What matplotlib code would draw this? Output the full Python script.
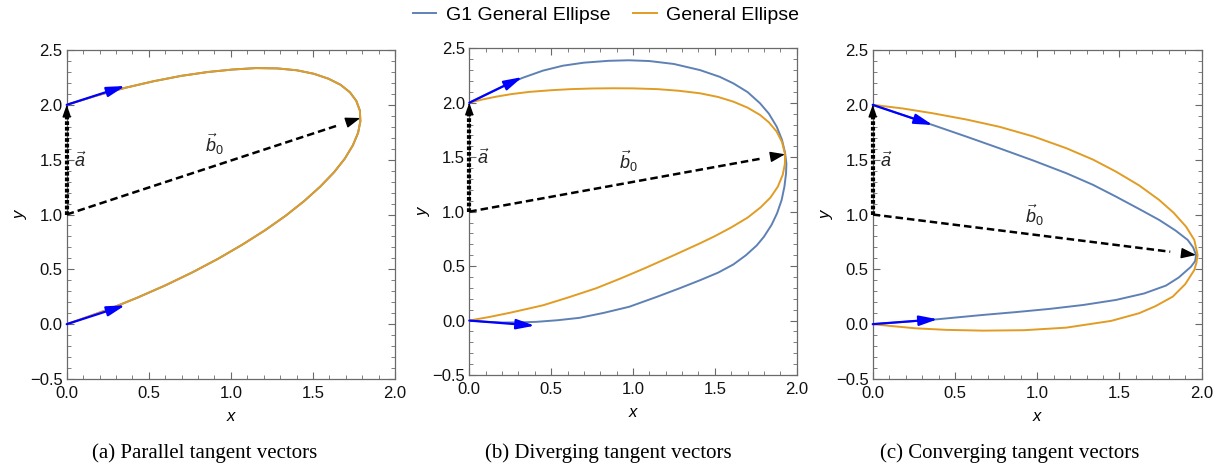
import matplotlib
matplotlib.use("Agg")
import matplotlib.pyplot as plt
from matplotlib.lines import Line2D
from matplotlib.ticker import MultipleLocator, FuncFormatter

plt.rcParams['font.family'] = ['Liberation Sans', 'DejaVu Sans']
plt.rcParams['mathtext.fontset'] = 'custom'
plt.rcParams['mathtext.rm'] = 'Liberation Sans'
plt.rcParams['mathtext.it'] = 'Liberation Sans:italic'

# ---------------- data ----------------
series_names = ["G1 General Ellipse", "General Ellipse"]
captions = ["(a) Parallel tangent vectors",
            "(b) Diverging tangent vectors",
            "(c) Converging tangent vectors"]

# Panel (a): both curves coincide
a_g1_x = [0.000, 0.179, 0.356, 0.529, 0.697, 0.858, 1.011, 1.153, 1.284, 1.402, 1.506,
          1.595, 1.668, 1.725, 1.764, 1.786, 1.789, 1.775, 1.743, 1.694, 1.628, 1.545,
          1.447, 1.335, 1.209, 1.071, 0.923, 0.765, 0.600, 0.428, 0.253, 0.074, 0.000]
a_g1_y = [2.000, 2.083, 2.155, 2.215, 2.264, 2.299, 2.322, 2.335, 2.332, 2.315, 2.283,
          2.238, 2.183, 2.115, 2.037, 1.948, 1.850, 1.744, 1.630, 1.509, 1.384, 1.255,
          1.123, 0.990, 0.857, 0.726, 0.597, 0.472, 0.353, 0.240, 0.134, 0.038, 0.000]
a_ge_x = list(a_g1_x)
a_ge_y = list(a_g1_y)

# Panel (b)
b_g1_x = [0.000, 0.100, 0.200, 0.324, 0.450, 0.571, 0.700, 0.850, 0.974, 1.100, 1.250,
          1.409, 1.530, 1.613, 1.700, 1.776, 1.830, 1.878, 1.910, 1.929, 1.937, 1.935,
          1.925, 1.908, 1.880, 1.847, 1.800, 1.756, 1.690, 1.613, 1.520, 1.409, 1.284,
          1.150, 0.978, 0.820, 0.673, 0.540, 0.408, 0.300, 0.200, 0.100, 0.000]
b_g1_y = [2.000, 2.075, 2.148, 2.228, 2.295, 2.340, 2.368, 2.385, 2.390, 2.383, 2.356,
          2.300, 2.238, 2.178, 2.098, 1.995, 1.900, 1.780, 1.660, 1.540, 1.440, 1.352,
          1.230, 1.107, 0.985, 0.880, 0.770, 0.690, 0.600, 0.515, 0.440, 0.370, 0.296,
          0.220, 0.127, 0.070, 0.025, 0.003, -0.012, -0.017, -0.018, -0.011, 0.000]
b_ge_x = [0.000, 0.080, 0.165, 0.260, 0.368, 0.500, 0.620, 0.750, 0.877, 1.000, 1.150,
          1.280, 1.409, 1.520, 1.613, 1.700, 1.776, 1.830, 1.878, 1.910, 1.929,
          1.928, 1.915, 1.885, 1.840, 1.780, 1.700, 1.600, 1.500, 1.409, 1.250, 1.079,
          0.930, 0.774, 0.600, 0.450, 0.368, 0.250, 0.120, 0.000]
b_ge_y = [2.000, 2.030, 2.056, 2.080, 2.100, 2.115, 2.125, 2.131, 2.133, 2.132, 2.125,
          2.110, 2.087, 2.053, 2.010, 1.955, 1.888, 1.820, 1.734, 1.640, 1.527,
          1.440, 1.340, 1.230, 1.130, 1.040, 0.945, 0.855, 0.775, 0.709, 0.600, 0.485,
          0.390, 0.296, 0.210, 0.140, 0.112, 0.072, 0.032, 0.000]

# Panel (c)
c_g1_x = [0.000, 0.182, 0.365, 0.570, 0.770, 0.980, 1.178, 1.340, 1.479, 1.620, 1.742,
          1.840, 1.915, 1.948, 1.966, 1.960, 1.935, 1.860, 1.783, 1.650, 1.479, 1.280,
          1.074, 0.870, 0.669, 0.395, 0.200, 0.000]
c_g1_y = [2.000, 1.908, 1.816, 1.710, 1.604, 1.490, 1.376, 1.270, 1.163, 1.050, 0.950,
          0.855, 0.768, 0.700, 0.631, 0.575, 0.524, 0.425, 0.352, 0.280, 0.221, 0.175,
          0.139, 0.110, 0.084, 0.045, 0.022, 0.000]
c_ge_x = [0.000, 0.182, 0.365, 0.570, 0.770, 0.980, 1.178, 1.340, 1.479, 1.620, 1.742,
          1.830, 1.905, 1.955, 1.975, 1.968, 1.955, 1.900, 1.824, 1.720, 1.620, 1.450,
          1.175, 0.920, 0.669, 0.450, 0.263, 0.120, 0.000]
c_ge_y = [2.000, 1.967, 1.923, 1.866, 1.800, 1.710, 1.604, 1.500, 1.391, 1.265, 1.132,
          1.015, 0.889, 0.768, 0.631, 0.560, 0.494, 0.365, 0.251, 0.165, 0.100, 0.030,
          -0.032, -0.055, -0.059, -0.052, -0.038, -0.018, 0.000]

# tangent vectors (tail, tip) per panel
tangent_upper = [((0, 2), (0.356, 2.172)), ((0, 2), (0.324, 2.236)), ((0, 2), (0.365, 1.816))]
tangent_lower = [((0, 0), (0.356, 0.172)), ((0, 0), (0.400, -0.047)), ((0, 0), (0.395, 0.045))]
# vector a (from (0,1) to (0,2)) and b0 (from (0,1) to a curve point)
vec_a = [((0, 1), (0, 2))] * 3
vec_b0 = [((0, 1), (1.789, 1.880)), ((0, 1), (1.929, 1.527)), ((0, 1), (1.966, 0.631))]
label_a_pos = [(0.085, 1.49), (0.085, 1.49), (0.085, 1.49)]
label_b_pos = [(0.90, 1.64), (0.97, 1.46), (0.98, 0.99)]

curves = [((a_g1_x, a_g1_y), (a_ge_x, a_ge_y)),
          ((b_g1_x, b_g1_y), (b_ge_x, b_ge_y)),
          ((c_g1_x, c_g1_y), (c_ge_x, c_ge_y))]

# ---------------- styling ----------------
BLUE = "#5E81B5"
ORANGE = "#E19C24"
FRAME = "#6a6a6a"

fig = plt.figure(figsize=(12.21, 4.67), dpi=100)
W, H = 1221, 467
boxes = [(66.7, 379, 328.3, 329), (469.3, 375, 327.4, 326.7), (872.7, 379, 329, 329)]
caption_cx = [204.5, 608, 1010]


def head(ax, tail, tip, color, lw, ms):
    dx, dy = tip[0] - tail[0], tip[1] - tail[1]
    start = (tip[0] - 0.02 * dx, tip[1] - 0.02 * dy)
    ax.annotate('', xy=tip, xytext=start,
                arrowprops=dict(arrowstyle='-|>,head_length=0.9,head_width=0.32',
                                color=color, lw=lw, shrinkA=0, shrinkB=0,
                                mutation_scale=ms))


fmt = FuncFormatter(lambda v, p: ('%.1f' % v).replace('-', '\u2212'))

for i, (l, b, w, h) in enumerate(boxes):
    ax = fig.add_axes([l / W, (H - b) / H, w / W, h / H])
    (g1x, g1y), (gex, gey) = curves[i]
    ax.plot(g1x, g1y, color=BLUE, lw=1.4, zorder=3, solid_joinstyle='round')
    ax.plot(gex, gey, color=ORANGE, lw=1.4, zorder=3, solid_joinstyle='round')

    # vector a (thick dotted)
    (t0, t1) = vec_a[i]
    ax.plot([t0[0], t1[0]], [t0[1], t1[1] - 0.06], color='black', lw=3.0,
            linestyle=(0, (0.9, 0.45)), zorder=5, clip_on=False, solid_capstyle='butt')
    head(ax, t0, t1, 'black', 1.0, 8)

    # vector b0 (dashed)
    (t0, t1) = vec_b0[i]
    ax.plot([t0[0], t1[0] - 0.08 * (t1[0] - t0[0])],
            [t0[1], t1[1] - 0.08 * (t1[1] - t0[1])],
            color='black', lw=1.8, linestyle=(0, (3.0, 1.6)), zorder=5)
    head(ax, t0, t1, 'black', 1.0, 10)

    # tangent vectors
    for tv in (tangent_upper[i], tangent_lower[i]):
        ax.annotate('', xy=tv[1], xytext=tv[0],
                    arrowprops=dict(arrowstyle='-|>,head_length=1.1,head_width=0.3',
                                    color='#0000FF', lw=1.6, shrinkA=0, shrinkB=0,
                                    mutation_scale=10), zorder=6)

    ax.text(*label_a_pos[i], r'$\vec{a}$', fontsize=13, color='#222222',
            ha='center', va='center')
    ax.text(*label_b_pos[i], r'$\vec{b}_0$', fontsize=13, color='#222222',
            ha='center', va='center')

    ax.set_xlim(0, 2)
    ax.set_ylim(-0.5, 2.5)
    ax.xaxis.set_major_locator(MultipleLocator(0.5))
    ax.yaxis.set_major_locator(MultipleLocator(0.5))
    ax.xaxis.set_minor_locator(MultipleLocator(0.1))
    ax.yaxis.set_minor_locator(MultipleLocator(0.1))
    ax.xaxis.set_major_formatter(fmt)
    ax.yaxis.set_major_formatter(fmt)
    ax.tick_params(which='both', direction='in', top=True, right=True,
                   color=FRAME, labelsize=12, labelcolor='#111111')
    ax.tick_params(axis='x', which='major', pad=5)
    ax.tick_params(axis='y', which='major', pad=3)
    ax.tick_params(which='major', length=5, width=0.8)
    ax.tick_params(which='minor', length=3, width=0.6)
    for s in ax.spines.values():
        s.set_color(FRAME)
        s.set_linewidth(0.9)
    ax.set_xlabel('x', fontstyle='italic', fontsize=12, labelpad=6)
    ax.set_ylabel('y', fontstyle='italic', fontsize=12, labelpad=1)

    fig.text(caption_cx[i] / W, 1 - 453 / H, captions[i], family='Liberation Serif',
             fontsize=15, ha='center', va='center')

handles = [Line2D([], [], color=BLUE, lw=1.4), Line2D([], [], color=ORANGE, lw=1.4)]
fig.legend(handles, series_names, loc='center', bbox_to_anchor=(606 / W, 1 - 15 / H),
           ncol=2, frameon=False, fontsize=14, handlelength=1.2, columnspacing=1.2,
           handletextpad=0.5)

fig.savefig('out.png', dpi=100)
